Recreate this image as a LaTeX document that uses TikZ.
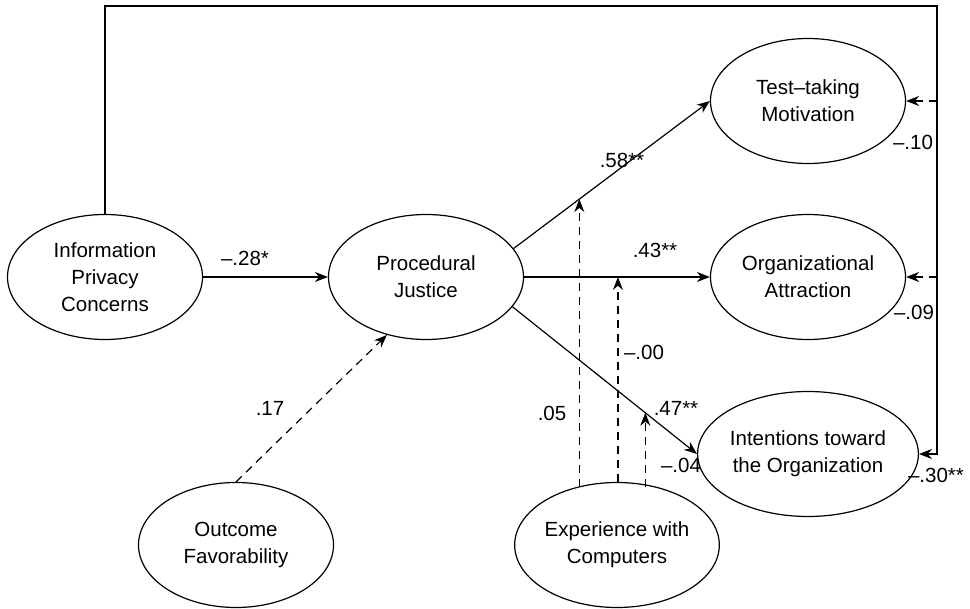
\documentclass[tikz,border=0pt]{standalone}
\usepackage{fontspec}
\setmainfont{Liberation Sans}
\usetikzlibrary{shapes.geometric, arrows.meta, calc}

\begin{document}
\begin{tikzpicture}[x=1pt, y=-1pt, line width=1.2pt,
    var/.style={draw, ellipse, minimum width=195pt, minimum height=125pt,
      inner sep=0pt, align=center, font=\fontsize{20.5}{27}\selectfont},
    arr/.style={-{Stealth[length=13pt, width=10pt]}},
    dsh/.style={arr, dash pattern=on 8pt off 6pt},
    coef/.style={font=\fontsize{20.5}{24}\selectfont}]
  \useasboundingbox (0, 0) rectangle (970, 609);

  % latent variables
  \node[var] (ipc) at (105, 277) {Information\\Privacy\\Concerns};
  \node[var] (pj) at (426, 277) {Procedural\\Justice};
  \node[var] (tm) at (808, 101) {Test--taking\\Motivation};
  \node[var] (oa) at (808, 277) {Organizational\\Attraction};
  \node[var] (io) at (808, 454) {Intentions toward\\the Organization};
  \node[var] (of) at (236, 545) {Outcome\\Favorability};
  \node[var] (ec) at (617, 545) {Experience with\\Computers};

  % paths
  \draw[arr] (ipc) -- (pj);
  \draw[arr] (pj.18) -- (tm.west) coordinate[pos=0.335] (m1);
  \draw[arr] (pj.east) -- (oa.west) coordinate[pos=0.505] (m2);
  \draw[arr] (pj.-19) -- (io.west) coordinate[pos=0.72] (m3);
  \draw[dsh] (of.north) -- (pj.236);

  % moderation by experience
  \draw[dsh] (m1 |- ec.124) -- (m1);
  \draw[dsh] (m2 |- ec.north) -- (m2);
  \draw[dsh] (m3 |- ec.56) -- (m3);

  % direct effects of privacy concerns
  \coordinate (tr) at (937, 6);
  \draw[arr] (ipc.north) |- (tr) |- (io.east);
  \draw[dsh] (tm.east -| tr) -- (tm.east);
  \draw[dsh] (oa.east -| tr) -- (oa.east);

  % coefficients
  \node[coef] (c1) at (245, 258) {--.28*};
  \node[coef] (c2) at (622, 160) {.58**};
  \node[coef] (c3) at (655, 250) {.43**};
  \node[coef] (c4) at (676, 408) {.47**};
  \node[coef] (c5) at (270, 408) {.17};
  \node[coef] (c6) at (552, 413) {.05};
  \node[coef] (c7) at (644, 352) {--.00};
  \node[coef] (c8) at (681, 465) {--.04};
  \node[coef] (c9) at (913, 142) {--.10};
  \node[coef] (c10) at (914, 312) {--.09};
  \node[coef] (c11) at (936, 475) {--.30**};
\end{tikzpicture}
\end{document}
